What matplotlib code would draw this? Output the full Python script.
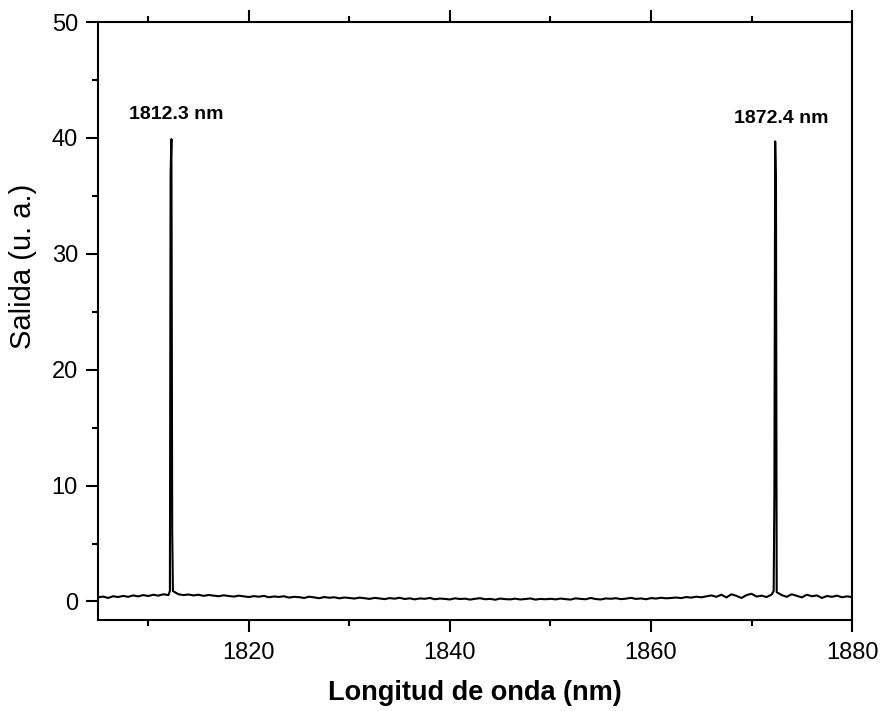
import numpy as np
import matplotlib.pyplot as plt
from matplotlib.ticker import MultipleLocator

plt.rcParams['font.family'] = ['Liberation Sans', 'DejaVu Sans']

# baseline readings, 0.5 nm apart
base_left = [0.35, 0.42, 0.30, 0.45, 0.38, 0.48, 0.40, 0.52, 0.44, 0.55,
             0.47, 0.58, 0.50, 0.62, 0.55]                      # 1805.0 - 1812.0
base_mid = [0.62, 0.55, 0.60, 0.52, 0.58, 0.48, 0.56, 0.50, 0.45, 0.53, 0.47,
            0.42, 0.50, 0.44, 0.38, 0.46, 0.41, 0.48, 0.36, 0.43, 0.39, 0.45, 0.33,
            0.40, 0.37, 0.30, 0.41, 0.35, 0.28, 0.38, 0.32, 0.36, 0.27, 0.34, 0.30,
            0.25, 0.33, 0.28, 0.22, 0.31, 0.26, 0.20, 0.29, 0.24, 0.32, 0.21, 0.27,
            0.18, 0.26, 0.23, 0.30, 0.19, 0.25, 0.22, 0.17, 0.27, 0.21, 0.24, 0.16,
            0.23, 0.28, 0.19, 0.22, 0.15, 0.25, 0.20, 0.18, 0.24, 0.17, 0.21, 0.26,
            0.16, 0.22, 0.19, 0.23,
            0.18, 0.25, 0.20, 0.16, 0.27, 0.22, 0.19, 0.30, 0.21, 0.17, 0.26, 0.23,
            0.28, 0.20, 0.24, 0.31, 0.22, 0.26, 0.19, 0.29, 0.25, 0.32, 0.27, 0.30,
            0.34, 0.29, 0.38, 0.33, 0.41, 0.36, 0.44, 0.52, 0.40, 0.58, 0.35, 0.62,
            0.48, 0.30, 0.55, 0.66, 0.42, 0.50, 0.38, 0.60]          # 1813.0 - 1872.0
base_right = [0.55, 0.40, 0.62, 0.48, 0.35, 0.58, 0.45, 0.52, 0.30, 0.47,
              0.40, 0.50, 0.36, 0.44, 0.38]                     # 1873.0 - 1880.0

# laser lines
peak1_x = [1812.15, 1812.22, 1812.3, 1812.38, 1812.45]
peak1_y = [0.9, 37.0, 39.9, 6.0, 0.9]
peak2_x = [1872.2, 1872.27, 1872.35, 1872.43, 1872.5]
peak2_y = [0.9, 9.0, 39.7, 36.0, 0.8]

labels = ['1812.3 nm', '1872.4 nm']
label_x = [1812.75, 1872.95]
label_y = [41.6, 41.3]

x = np.concatenate([np.arange(1805.0, 1812.01, 0.5), peak1_x,
                    np.arange(1813.0, 1872.01, 0.5), peak2_x,
                    np.arange(1873.0, 1880.01, 0.5)])
y = np.concatenate([base_left, peak1_y, base_mid, peak2_y, base_right])

fig = plt.figure(figsize=(8.83, 7.11), dpi=100)
ax = fig.add_axes([0.111, 0.128, 0.854, 0.841])

ax.plot(x, y, color='black', lw=1.5)

for t, tx, ty in zip(labels, label_x, label_y):
    ax.text(tx, ty, t, ha='center', va='baseline', fontsize=14, fontweight='bold')

ax.set_xlim(1805, 1880)
ax.set_ylim(-1.6, 50)
ax.xaxis.set_major_locator(MultipleLocator(20))
ax.xaxis.set_minor_locator(MultipleLocator(10))
ax.yaxis.set_major_locator(MultipleLocator(10))
ax.yaxis.set_minor_locator(MultipleLocator(5))

for s in ax.spines.values():
    s.set_linewidth(1.5)

ax.tick_params(axis='x', which='both', direction='out', top=True, bottom=True,
               labelsize=17, width=1.5, pad=7)
ax.tick_params(axis='y', which='both', direction='out', left=True, right=False,
               labelsize=17, width=1.5, pad=6)
ax.tick_params(which='major', length=8.5)
ax.tick_params(which='minor', length=4.5)

ax.set_xlabel('Longitud de onda (nm)', fontsize=19.5, fontweight='bold', labelpad=12)
ax.set_ylabel('Salida (u. a.)', fontsize=21)
ax.yaxis.set_label_coords(-0.081, 0.592)

fig.savefig('out.png', dpi=100)
